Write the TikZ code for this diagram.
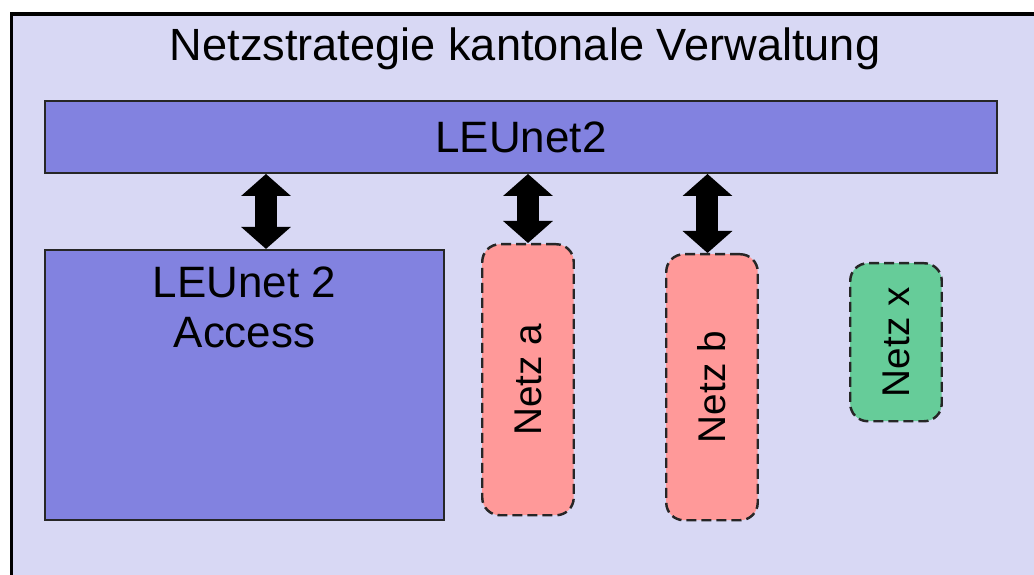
\documentclass[tikz,border=0pt]{standalone}
\usepackage{fontspec}
\setmainfont{Liberation Sans}
\usepackage{tikz}
\usetikzlibrary{arrows.meta, positioning}
\usepackage{xcolor}
\definecolor{frameBg}{RGB}{216,216,244}
\definecolor{netBlue}{RGB}{130,130,224}
\definecolor{netRed}{RGB}{255,153,153}
\definecolor{netGreen}{RGB}{102,204,153}
\tikzset{
  bluebox/.style={
    rectangle, draw=black!85, line width=1.1pt, fill=netBlue,
    inner sep=0pt, font=\fontsize{25}{30}\selectfont
  },
  netzbox/.style={
    rectangle, rounded corners=10pt, draw=black!85, line width=1.4pt,
    dash pattern=on 0.2cm off 0.1cm, fill=#1,
    minimum width=1.83cm, inner sep=0pt
  },
  netzlabel/.style={rotate=90, font=\fontsize{22}{26}\selectfont},
  link/.style={
    {Triangle[length=0.44cm, width=0.97cm]}-{Triangle[length=0.44cm, width=0.97cm]},
    line width=0.44cm, draw=black
  }
}

\begin{document}
\begin{tikzpicture}
  \useasboundingbox (0,0) rectangle (20.68,-11.5);
  % outer frame
  \draw[line width=2pt, fill=frameBg] (0.23,-0.28) rectangle (21.2,-12);
  \node[font=\fontsize{25.7}{30}\selectfont] (title) at (10.5,-0.97)
    {Netzstrategie kantonale Verwaltung};

  \node[bluebox, minimum width=19.04cm, minimum height=1.44cm] (bar)
    at (10.42,-2.74) {LEUnet2};
  \node[bluebox, minimum width=7.98cm, minimum height=5.4cm,
        below right=1.5cm and 0cm of bar.south west] (acc) {};
  \node[anchor=north, align=center, inner sep=0pt,
        font=\fontsize{25}{28}\selectfont] (acctext)
    at ([yshift=-0.36cm]acc.north) {LEUnet 2\\Access};

  \node[netzbox=netRed, minimum height=5.42cm, anchor=north west] (na)
    at (9.62,-4.86) {};
  \node[netzbox=netRed, minimum height=5.32cm, anchor=north west] (nb)
    at (13.3,-5.06) {};
  \node[netzbox=netGreen, minimum height=3.16cm, anchor=north west] (nx)
    at (16.98,-5.24) {};
  \node[netzlabel] (latext) at (na) {Netz a};
  \node[netzlabel] (lbtext) at (nb) {Netz b};
  \node[netzlabel] (lxtext) at (nx) {Netz x};

  % connections to the backbone
  \draw[link] ([xshift=0.43cm]acc.north |- bar.south) -- ([xshift=0.43cm]acc.north);
  \draw[link] (na.north |- bar.south) -- (na.north);
  \draw[link] ([xshift=-0.09cm]nb.north |- bar.south) -- ([xshift=-0.09cm]nb.north);
\end{tikzpicture}
\end{document}
